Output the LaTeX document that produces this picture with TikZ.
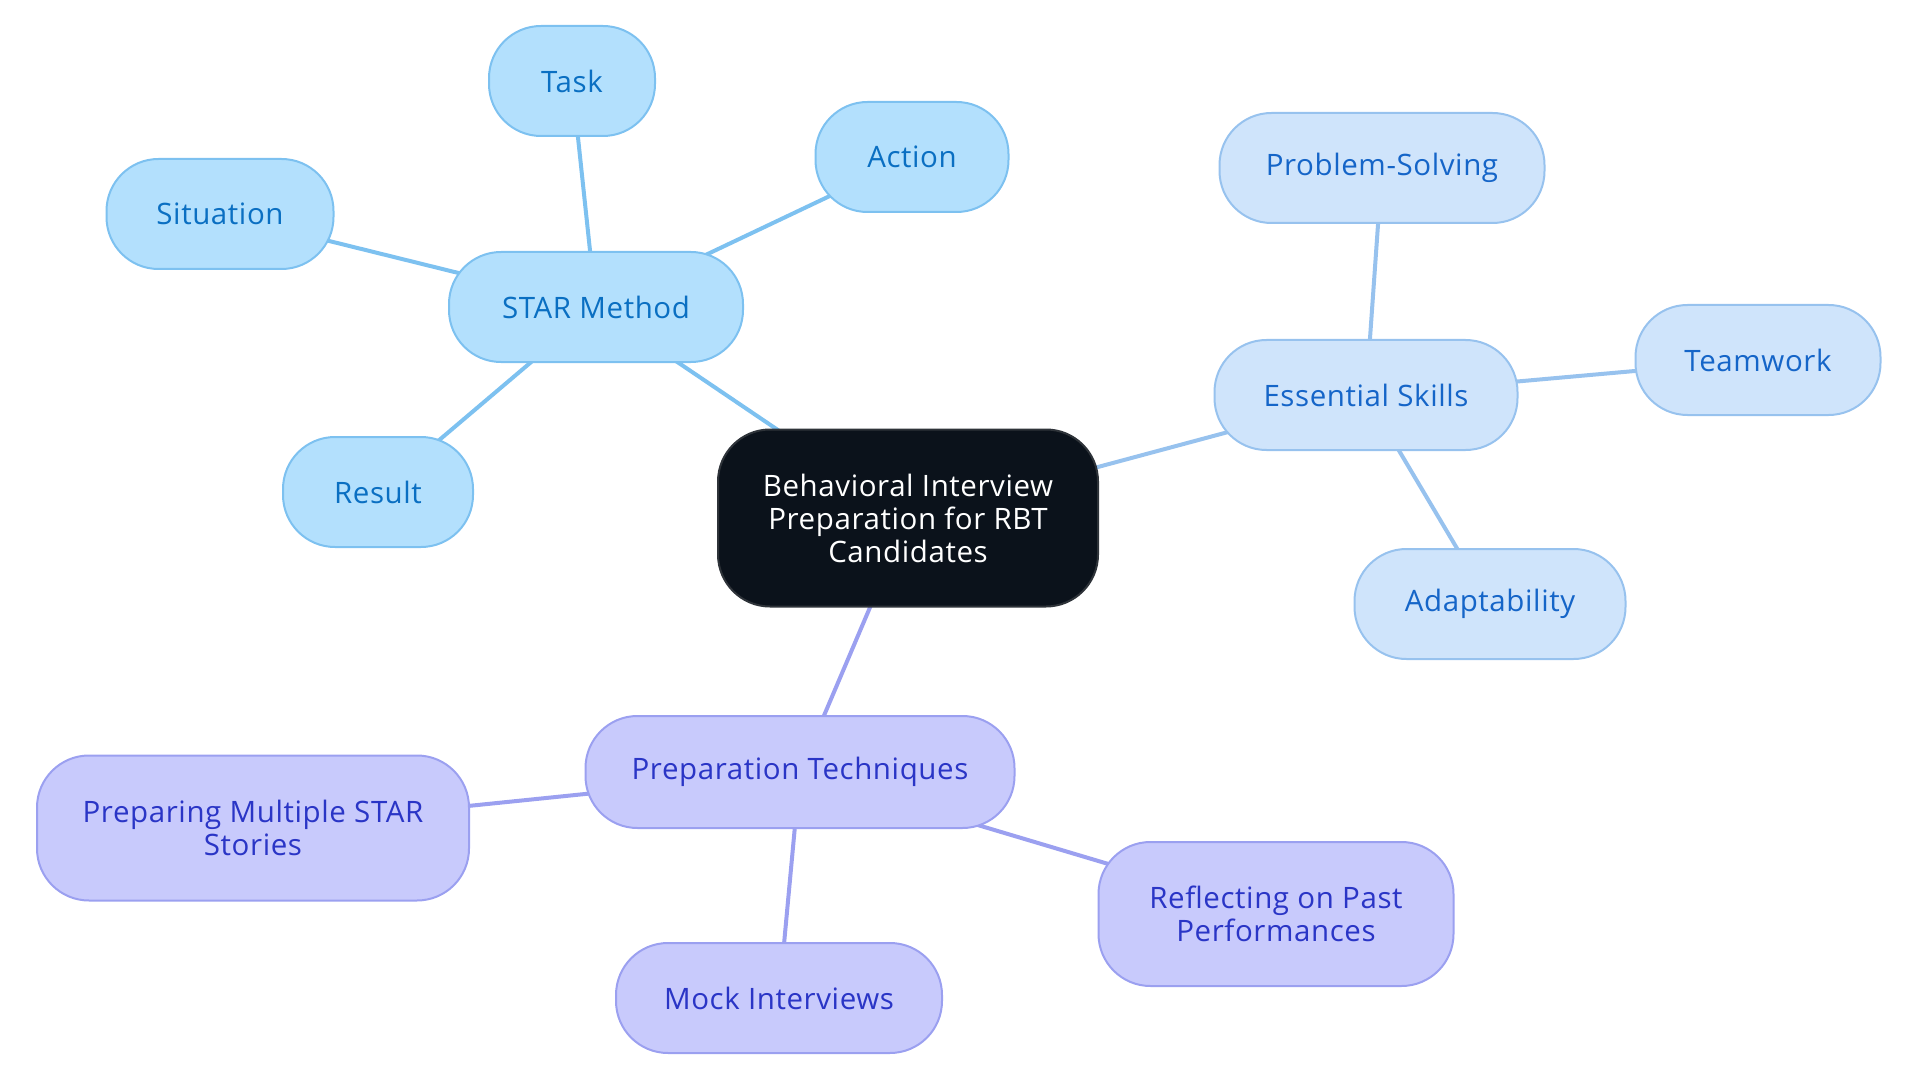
\documentclass[tikz,border=0pt]{standalone}
\usepackage{fontspec}
\setmainfont{Open Sans}[LetterSpace=2]
\usetikzlibrary{backgrounds}
\definecolor{rootfill}{HTML}{0B121B}
\definecolor{rootdraw}{HTML}{2E3339}
\definecolor{starfill}{HTML}{B3E0FD}
\definecolor{stardraw}{HTML}{7DC1F0}
\definecolor{startext}{HTML}{0A6FC2}
\definecolor{skillfill}{HTML}{CFE4FB}
\definecolor{skilldraw}{HTML}{97C2EE}
\definecolor{skilltext}{HTML}{1565C8}
\definecolor{prepfill}{HTML}{C8CAFC}
\definecolor{prepdraw}{HTML}{9BA0F0}
\definecolor{preptext}{HTML}{2A35C6}
\tikzset{
  base/.style={rectangle, rounded corners=52pt, inner sep=0pt, line width=2pt, align=center,
    font=\fontsize{29.5}{33}\selectfont, minimum height=110pt},
  rootbox/.style={base, fill=rootfill, draw=rootdraw, text=white},
  starbox/.style={base, fill=starfill, draw=stardraw, text=startext},
  skillbox/.style={base, fill=skillfill, draw=skilldraw, text=skilltext},
  prepbox/.style={base, fill=prepfill, draw=prepdraw, text=preptext},
  starline/.style={draw=stardraw, line width=4pt},
  skillline/.style={draw=skilldraw, line width=4pt},
  prepline/.style={draw=prepdraw, line width=4pt},
}
\begin{document}
\begin{tikzpicture}[x=1pt,y=-1pt]
\useasboundingbox (0,0) rectangle (1920,1083);
\node[rootbox, minimum width=380pt, minimum height=177pt] (root) at (908,518) {Behavioral Interview\\Preparation for RBT\\Candidates};
\node[starbox, minimum width=294pt] (star) at (596,307) {STAR Method};
\node[starbox, minimum width=166pt] (task) at (572,81) {Task};
\node[starbox, minimum width=193pt] (action) at (912,157) {Action};
\node[starbox, minimum width=227pt] (situation) at (220,214) {Situation};
\node[starbox, minimum width=190pt] (result) at (378,492) {Result};
\node[skillbox, minimum width=303pt] (skills) at (1366,395) {Essential Skills};
\node[skillbox, minimum width=325pt] (problem) at (1382,168) {Problem-Solving};
\node[skillbox, minimum width=245pt] (team) at (1758,360) {Teamwork};
\node[skillbox, minimum width=271pt] (adapt) at (1490,604) {Adaptability};
\node[prepbox, minimum width=429pt, minimum height=112pt] (prep) at (800,772) {Preparation Techniques};
\node[prepbox, minimum width=432pt, minimum height=145pt] (stories) at (253,828) {Preparing Multiple STAR\\Stories};
\node[prepbox, minimum width=326pt] (mock) at (779,998) {Mock Interviews};
\node[prepbox, minimum width=355pt, minimum height=144pt] (reflect) at (1276,914) {Reflecting on Past\\Performances};
\begin{scope}[on background layer]
\draw[starline] (root.center) -- (star.center);
\draw[starline] (star.center) -- (task.center);
\draw[starline] (star.center) -- (action.center);
\draw[starline] (star.center) -- (situation.center);
\draw[starline] (star.center) -- (result.center);
\draw[skillline] (root.center) -- (skills.center);
\draw[skillline] (skills.center) -- (problem.center);
\draw[skillline] (skills.center) -- (team.center);
\draw[skillline] (skills.center) -- (adapt.center);
\draw[prepline] (root.center) -- (prep.center);
\draw[prepline] (prep.center) -- (stories.center);
\draw[prepline] (prep.center) -- (mock.center);
\draw[prepline] (prep.center) -- (reflect.center);
\end{scope}
\end{tikzpicture}
\end{document}
